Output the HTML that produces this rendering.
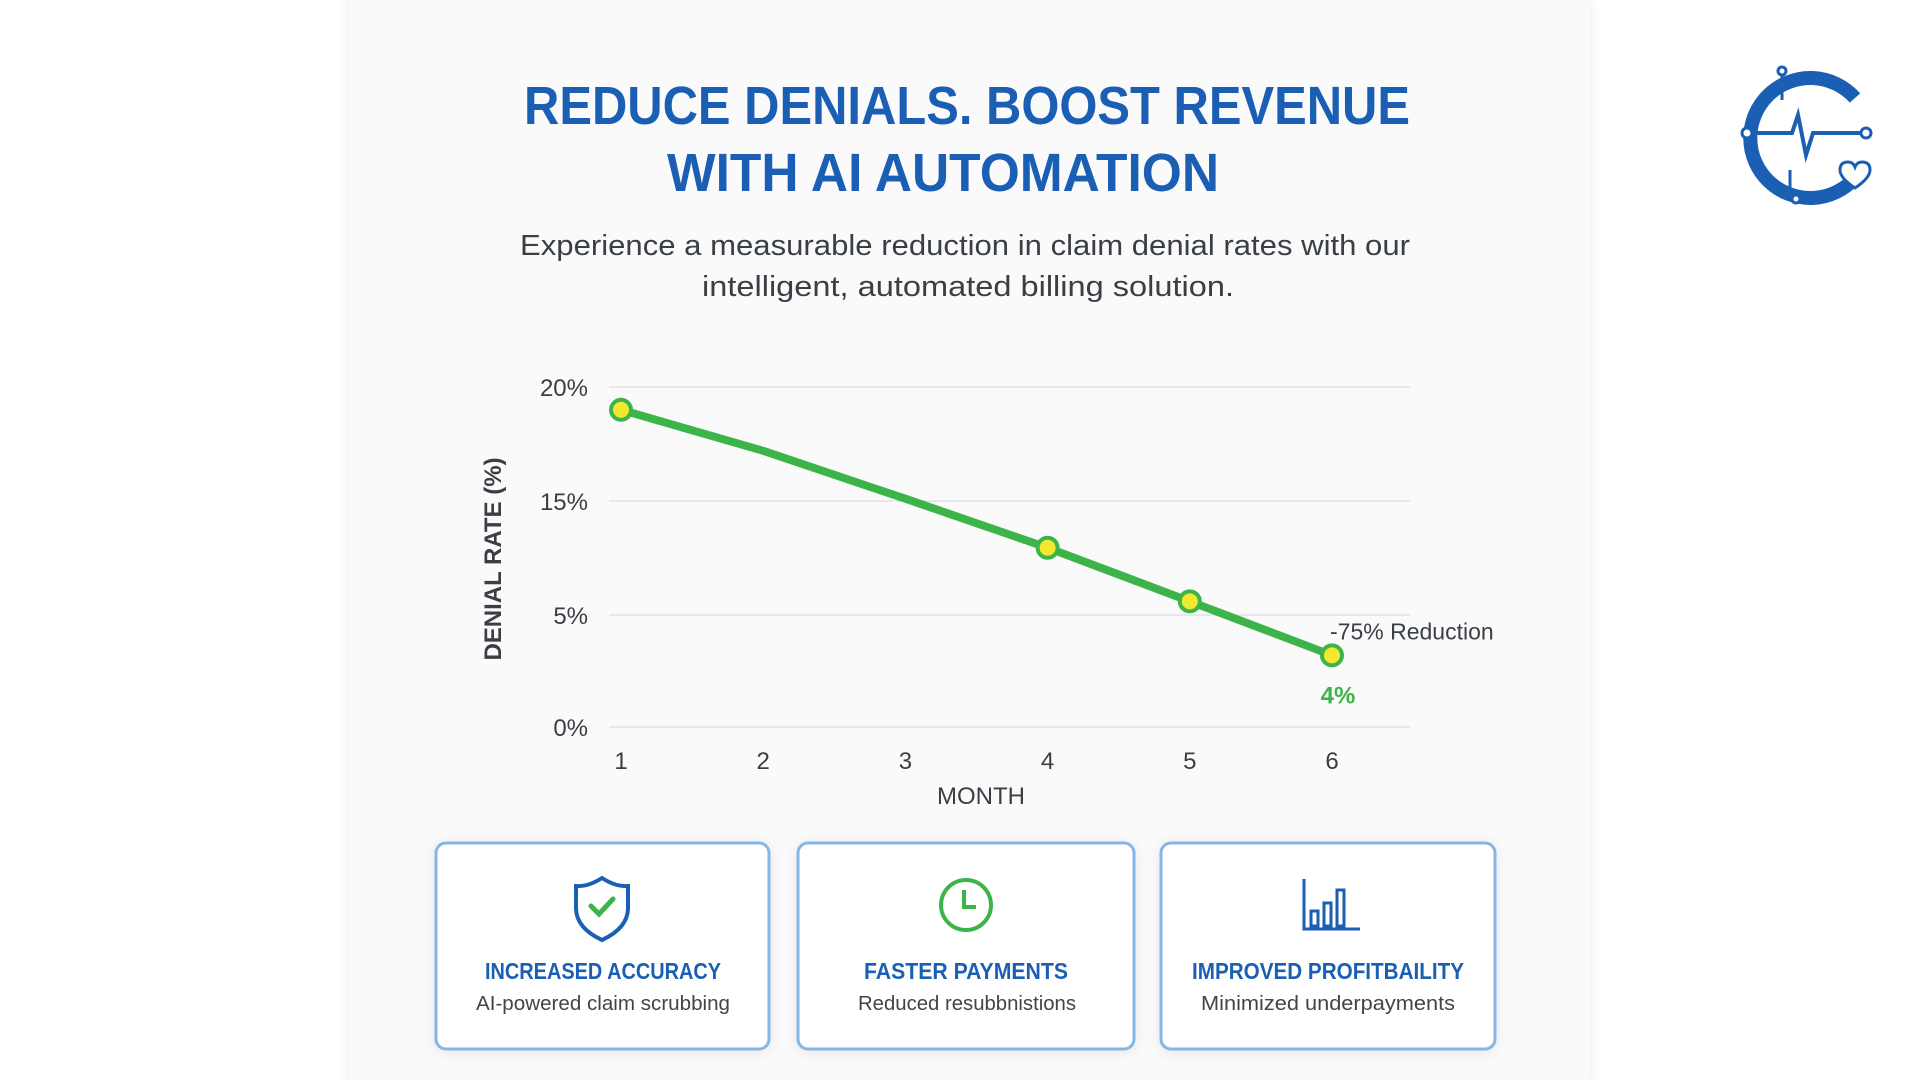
<!DOCTYPE html>
<html><head><meta charset="utf-8"><style>
html,body{margin:0;padding:0;background:#fff;width:1920px;height:1080px;overflow:hidden}
svg{display:block;font-family:"Liberation Sans",sans-serif}
</style></head><body>
<svg id="root" width="1920" height="1080" viewBox="0 0 1920 1080">
<defs>
<filter id="sh" x="-10%" y="-10%" width="120%" height="120%"><feDropShadow dx="0" dy="2" stdDeviation="6" flood-color="#000" flood-opacity="0.08"/></filter>
</defs>
<rect x="349" y="-10" width="1241" height="1100" rx="16" fill="#fafafa" filter="url(#sh)"/>
<g fill="#1a5fb4" font-weight="bold" text-anchor="middle">
<text x="967" y="124" font-size="54" textLength="886" lengthAdjust="spacingAndGlyphs">REDUCE DENIALS. BOOST REVENUE</text>
<text x="943" y="191" font-size="54" textLength="552" lengthAdjust="spacingAndGlyphs">WITH AI AUTOMATION</text>
</g>
<g fill="#3a3f45" font-size="29" text-anchor="middle">
<text x="965" y="255" textLength="890" lengthAdjust="spacingAndGlyphs">Experience a measurable reduction in claim denial rates with our</text>
<text x="968" y="296" textLength="532" lengthAdjust="spacingAndGlyphs">intelligent, automated billing solution.</text>
</g>
<g id="chart"></g>
<!-- cards -->
<g>
<g>
<rect x="436" y="843" width="333" height="206" rx="10" fill="#fff" stroke="#86b6e8" stroke-width="3" filter="url(#sh)"/>
<path d="M602 878 q14 9 26 8 v22 q0 20 -26 32 q-26 -12 -26 -32 v-22 q12 1 26 -8z" fill="none" stroke="#1a5fb4" stroke-width="4"/>
<path d="M591 906 l8 8 l14 -15" fill="none" stroke="#3cb44a" stroke-width="5" stroke-linecap="round"/>
<text x="603" y="979" font-size="23" font-weight="bold" fill="#1a5fb4" text-anchor="middle" textLength="236" lengthAdjust="spacingAndGlyphs">INCREASED ACCURACY</text>
<text x="603" y="1010" font-size="20" fill="#444" text-anchor="middle" textLength="254" lengthAdjust="spacingAndGlyphs">AI-powered claim scrubbing</text>
</g>
<g>
<rect x="798" y="843" width="336" height="206" rx="10" fill="#fff" stroke="#86b6e8" stroke-width="3" filter="url(#sh)"/>
<circle cx="966" cy="905" r="25" fill="none" stroke="#3cb44a" stroke-width="4"/>
<path d="M964 890 v17 h12" fill="none" stroke="#3cb44a" stroke-width="4"/>
<text x="966" y="979" font-size="23" font-weight="bold" fill="#1a5fb4" text-anchor="middle" textLength="204" lengthAdjust="spacingAndGlyphs">FASTER PAYMENTS</text>
<text x="967" y="1010" font-size="20" fill="#444" text-anchor="middle" textLength="218" lengthAdjust="spacingAndGlyphs">Reduced resubbnistions</text>
</g>
<g>
<rect x="1161" y="843" width="334" height="206" rx="10" fill="#fff" stroke="#86b6e8" stroke-width="3" filter="url(#sh)"/>
<g fill="none" stroke="#1a5fb4" stroke-width="3">
<path d="M1304 879 v50 h56"/>
<rect x="1311" y="911" width="7" height="15"/><rect x="1324" y="903" width="7" height="23"/><rect x="1337" y="890" width="7" height="36"/>
</g>
<text x="1328" y="979" font-size="23" font-weight="bold" fill="#1a5fb4" text-anchor="middle" textLength="272" lengthAdjust="spacingAndGlyphs">IMPROVED PROFITBAILITY</text>
<text x="1328" y="1010" font-size="20" fill="#444" text-anchor="middle" textLength="254" lengthAdjust="spacingAndGlyphs">Minimized underpayments</text>
</g>
</g>
<!-- logo -->
<g fill="none" stroke="#1a5fb4" stroke-width="6">
<path d="M1855 98 A60 60 0 1 0 1855 178" stroke-width="14"/>
<path d="M1748 133 H1792 l6 -18 l8 40 l7 -22 H1865" stroke-width="4"/>
<circle cx="1747" cy="133" r="5" fill="#fff" stroke-width="3"/>
<circle cx="1866" cy="133" r="5" fill="#fff" stroke-width="3"/>
<path d="M1782 75 v25 M1800 81 h10 M1790 170 v25" stroke-width="3"/>
<circle cx="1782" cy="71" r="4" fill="#fff" stroke-width="3"/>
<circle cx="1796" cy="199" r="4" fill="#fff" stroke-width="3"/>
<path d="M1840 170 q0 -8 8 -8 q5 0 7 5 q2 -5 7 -5 q8 0 8 8 q0 8 -15 18 q-15 -10 -15 -18z" fill="#fff" stroke-width="3"/>
</g>
</svg>
<script>
const months = ["1","2","3","4","5","6"];
const denialRate = [19.0, 17.2, 15.1, 10.9, 6.2, 3.2];
const showMarker = [true, false, false, true, true, true];
const yTickValues = [0, 5, 15, 20];
const yTickLabels = ["0%", "5%", "15%", "20%"];
const NS = "http://www.w3.org/2000/svg";
const chart = document.getElementById('chart');
const X0 = 621, XSTEP = 142.2;
const YPOS = [727, 615, 501, 387]; // pixel position for each tick index
function xScale(i){ return X0 + i * XSTEP; }
function yScale(v){
  for (let k = 0; k < yTickValues.length - 1; k++){
    const a = yTickValues[k], b = yTickValues[k+1];
    if (v <= b || k === yTickValues.length - 2){
      return YPOS[k] + (v - a) / (b - a) * (YPOS[k+1] - YPOS[k]);
    }
  }
}
function mk(tag, attrs){ const e = document.createElementNS(NS, tag); for (const k in attrs) e.setAttribute(k, attrs[k]); chart.appendChild(e); return e; }
yTickValues.forEach((v, i) => {
  const g = mk('line', {x1: 609, x2: 1410, y1: yScale(v), y2: yScale(v), stroke: '#e6e8eb', 'stroke-width': 2});
  
  
  const t = mk('text', {x: 588, y: yScale(v) + 9, 'font-size': 24, fill: '#3a3f45', 'text-anchor': 'end'});
  t.textContent = yTickLabels[i];
  
  
});
months.forEach((m, i) => {
  const t = mk('text', {x: xScale(i), y: 769, 'font-size': 24, fill: '#3a3f45', 'text-anchor': 'middle'});
  t.textContent = m;
  
  
});
const yt = mk('text', {x: 0, y: 0, 'font-size': 24, 'font-weight': 'bold', fill: '#3a3f45', 'text-anchor': 'middle', transform: 'translate(501,559) rotate(-90)'});
yt.textContent = 'DENIAL RATE (%)';


const xt = mk('text', {x: 981, y: 804, 'font-size': 24, fill: '#3a3f45', 'text-anchor': 'middle'});
xt.textContent = 'MONTH';


const pts = denialRate.map((v, i) => xScale(i) + ',' + yScale(v)).join(' ');
const line = mk('polyline', {points: pts, fill: 'none', stroke: '#3cb44a', 'stroke-width': 8, 'stroke-linejoin': 'round', 'stroke-linecap': 'round'});


denialRate.forEach((v, i) => {
  if (!showMarker[i]) return;
  const c = mk('circle', {cx: xScale(i), cy: yScale(v), r: 10, fill: '#f2e830', stroke: '#3cb44a', 'stroke-width': 4});
  
  
});
const last = denialRate.length - 1;
const a1 = mk('text', {x: xScale(last) - 2, y: yScale(denialRate[last]) - 16, 'font-size': 23, fill: '#3a3f45'});
a1.textContent = '-75% Reduction';


const a2 = mk('text', {x: xScale(last) + 6, y: yScale(denialRate[last]) + 48, 'font-size': 24, 'font-weight': 'bold', fill: '#3cb44a', 'text-anchor': 'middle'});
a2.textContent = '4%';


</script>
</body></html>
